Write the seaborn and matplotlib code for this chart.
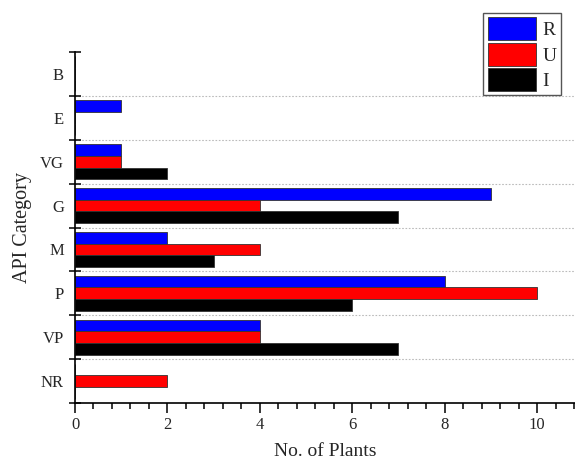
import matplotlib
matplotlib.use("Agg")
import matplotlib.pyplot as plt
import seaborn as sns
import pandas as pd
from matplotlib.ticker import MultipleLocator, FixedLocator

categories = ["B", "E", "VG", "G", "M", "P", "VP", "NR"]
series = ["R", "U", "I"]
R_values = [0, 1, 1, 9, 2, 8, 4, 0]
U_values = [0, 0, 1, 4, 4, 10, 4, 2]
I_values = [0, 0, 2, 7, 3, 6, 7, 0]
colors = ["#0000FF", "#FF0000", "#000000"]

rows = []
for s, vals in zip(series, [R_values, U_values, I_values]):
    for c, v in zip(categories, vals):
        rows.append({"API Category": c, "Series": s, "No. of Plants": v})
df = pd.DataFrame(rows)

sns.set_style("white")
plt.rcParams["font.family"] = ["Liberation Serif", "DejaVu Serif"]

fig = plt.figure(figsize=(5.75, 4.62), dpi=100)
ax = fig.add_axes([75/575, 1-403/462, 1-75/575, (403-52)/462])

sns.barplot(data=df, x="No. of Plants", y="API Category", hue="Series",
            order=categories, hue_order=series, palette=colors, orient="h",
            width=0.8, edgecolor="#333333", linewidth=0.6, errorbar=None,
            saturation=1, ax=ax)

ax.set_xlim(0, 10.82)
ax.set_ylim(7.5, -0.5)
ax.xaxis.set_major_locator(MultipleLocator(2))
ax.xaxis.set_minor_locator(MultipleLocator(0.4))
ax.yaxis.set_minor_locator(FixedLocator([i - 0.5 for i in range(len(categories) + 1)]))

ax.tick_params(axis="x", which="both", bottom=True, color="black")
ax.tick_params(axis="y", which="both", left=True, color="black")
ax.tick_params(axis="x", which="major", direction="out", length=7, width=1.1, labelsize=12, pad=3)
ax.tick_params(axis="x", which="minor", direction="out", length=4, width=1.1)
ax.tick_params(axis="y", which="major", length=0, labelsize=12, pad=8)
ax.tick_params(axis="y", which="minor", direction="inout", length=8, width=1.1)

ax.grid(False)
ax.grid(which="minor", axis="y", linestyle=(0, (1.5, 1.5)), color="#bbbbbb", linewidth=0.8)
mticks = ax.yaxis.get_minor_ticks()
mticks[0].gridline.set_visible(False)
mticks[-1].gridline.set_visible(False)

for sp in ["top", "right"]:
    ax.spines[sp].set_visible(False)
for sp in ["left", "bottom"]:
    ax.spines[sp].set_color("black")
    ax.spines[sp].set_linewidth(1.2)

ax.set_xlabel("No. of Plants", fontsize=14, labelpad=7)
ax.set_ylabel("API Category", fontsize=14.5, labelpad=6)

leg = ax.legend(loc="upper right", bbox_to_anchor=(561/575, 1-13/462),
                bbox_transform=fig.transFigure, title=None, fontsize=14,
                handlelength=2.5, handleheight=1.45, labelspacing=0.12,
                handletextpad=0.33, borderpad=0.22, borderaxespad=0,
                fancybox=False, framealpha=1, edgecolor="#555555")
leg.get_frame().set_linewidth(1.0)

fig.savefig("out.png", dpi=100)
